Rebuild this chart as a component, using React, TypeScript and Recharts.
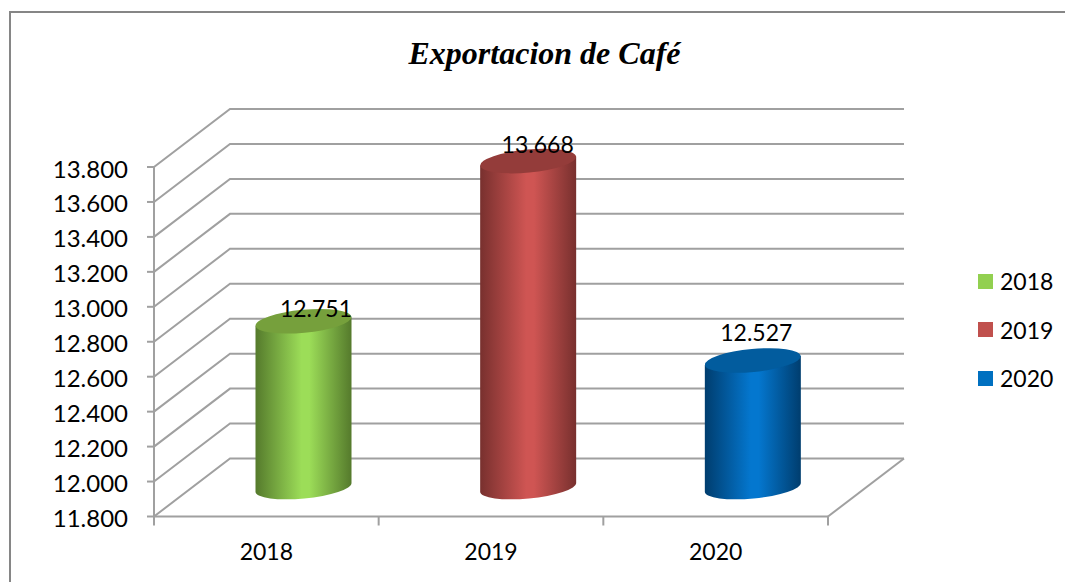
import { BarChart, Bar, XAxis, YAxis, CartesianGrid, LabelList, Legend } from 'recharts'

const categories = ['2018', '2019', '2020']
const values = [12751, 13668, 12527]
const yTicks = [11800, 12000, 12200, 12400, 12600, 12800, 13000, 13200, 13400, 13600, 13800]
const flatColors = ['#92d050', '#c0504d', '#0070c0']
const lightColors = ['#9cdd58', '#cf5553', '#0477cf']
const darkColors = ['#557a2c', '#78302e', '#003d6e']
const capColors = ['#76a03c', '#943c3a', '#025c9e']
// hand placed in the original, so the value labels don't sit the same distance from the caps
const labelNudges = [[12, -13], [9, -17], [3, -28]]

const data = categories.map((year, i) => ({ year, value: values[i] }))

const WIDTH = 1065
const HEIGHT = 582
const LEFT = 154
const RIGHT = 828
const TOP = 167
const BOTTOM = 516.5
const DEPTH_X = 76
const DEPTH_Y = 58
const LINE = '#a0a0a0'
const LINE_W = 2
const FONT = 'Lato, sans-serif'

const formatValue = (v: number) => (v / 1000).toFixed(3)

// each grid line runs up the side wall and then along the back wall
function depthLine({ x1, x2, y1 }: any) {
  const isFloor = Math.abs(y1 - BOTTOM) < 1
  return (
    <g key={y1}>
      <polyline
        points={`${x1},${y1} ${x1 + DEPTH_X},${y1 - DEPTH_Y} ${x2 + DEPTH_X},${y1 - DEPTH_Y}`}
        fill="none"
        stroke={LINE}
        strokeWidth={LINE_W}
      />
      {isFloor && (
        <line x1={x2} y1={y1} x2={x2 + DEPTH_X} y2={y1 - DEPTH_Y} stroke={LINE} strokeWidth={LINE_W} />
      )}
    </g>
  )
}

function Cylinder({ x, y, width, height, index }: any) {
  const cx = x + width / 2 + DEPTH_X / 2 - 0.5
  const top = y - DEPTH_Y / 2
  const bottom = y + height - DEPTH_Y / 2
  const half = width / 2
  const d = `M${cx - half},${bottom + 4.5} A48.2,11 -5.4 0 0 ${cx + half},${bottom - 4.5} L${cx + half},${top - 4.5} L${cx - half},${top + 4.5} Z`
  return (
    <g>
      <defs>
        <linearGradient id={`cyl-${index}`} x1="0" y1="0" x2="1" y2="0">
          <stop offset="0%" stopColor={darkColors[index]} />
          <stop offset="48%" stopColor={lightColors[index]} />
          <stop offset="56%" stopColor={lightColors[index]} />
          <stop offset="100%" stopColor={darkColors[index]} />
        </linearGradient>
      </defs>
      <path d={d} fill={`url(#cyl-${index})`} />
      <ellipse
        cx={cx}
        cy={top}
        rx={48.1}
        ry={11.5}
        fill={capColors[index]}
        transform={`rotate(-5.4 ${cx} ${top})`}
      />
    </g>
  )
}

function ValueLabel({ x, y, width, index }: any) {
  const [dx, dy] = labelNudges[index]
  return (
    <text
      x={x + width / 2 + DEPTH_X / 2 + dx}
      y={y - DEPTH_Y / 2 + dy}
      textAnchor="middle"
      dominantBaseline="central"
      fontFamily={FONT}
      fontSize={23}
      fill="#000"
    >
      {formatValue(values[index])}
    </text>
  )
}

// excel puts the category ticks on the band edges, not the centres
function CategoryTick({ x, payload, index }: any) {
  const band = (RIGHT - LEFT) / categories.length
  return (
    <g>
      <line x1={x - band / 2} y1={BOTTOM} x2={x - band / 2} y2={BOTTOM + 9} stroke={LINE} strokeWidth={LINE_W} />
      {index === categories.length - 1 && (
        <line x1={x + band / 2} y1={BOTTOM} x2={x + band / 2} y2={BOTTOM + 9} stroke={LINE} strokeWidth={LINE_W} />
      )}
      <text x={x} y={551} textAnchor="middle" dominantBaseline="central" fontFamily={FONT} fontSize={23} fill="#000">
        {payload.value}
      </text>
    </g>
  )
}

function YearLegend() {
  return (
    <div style={{ fontFamily: FONT, fontSize: 23, color: '#000' }}>
      {categories.map((year, i) => (
        <div key={year} style={{ display: 'flex', alignItems: 'center', height: 48.5 }}>
          <span style={{ width: 15, height: 15, background: flatColors[i], marginRight: 7 }} />
          {year}
        </div>
      ))}
    </div>
  )
}

export default function App() {
  return (
    <div style={{ position: 'absolute', left: 0, top: 0, width: WIDTH, height: HEIGHT, background: '#fff', overflow: 'hidden' }}>
      <div
        style={{
          position: 'absolute',
          left: 9,
          top: 11,
          right: 0,
          bottom: 0,
          borderLeft: '2px solid #868686',
          borderTop: '2px solid #868686',
        }}
      />
      <BarChart
        width={WIDTH}
        height={HEIGHT}
        data={data}
        margin={{ top: TOP, right: WIDTH - RIGHT, bottom: 0, left: 0 }}
        style={{ position: 'absolute', left: 0, top: 0 }}
      >
        <text
          x={544.5}
          y={53}
          textAnchor="middle"
          dominantBaseline="central"
          fontFamily="'Liberation Serif', serif"
          fontWeight="bold"
          fontStyle="italic"
          fontSize={32}
          fill="#000"
        >
          Exportacion de Café
        </text>
        <CartesianGrid vertical={false} horizontal={depthLine} />
        <XAxis
          dataKey="year"
          height={HEIGHT - BOTTOM}
          stroke={LINE}
          strokeWidth={LINE_W}
          tickLine={false}
          tick={CategoryTick}
          interval={0}
        />
        <YAxis
          domain={[11800, 13800]}
          ticks={yTicks}
          interval={0}
          width={LEFT}
          stroke={LINE}
          strokeWidth={LINE_W}
          tickSize={7}
          tickMargin={19}
          tickFormatter={formatValue}
          tick={{ fontFamily: FONT, fontSize: 24, fill: '#000', dy: 2 }}
        />
        <Legend
          layout="vertical"
          align="center"
          verticalAlign="middle"
          content={<YearLegend />}
          wrapperStyle={{ left: 978, top: 257, width: 85 }}
        />
        <Bar dataKey="value" barSize={96} shape={Cylinder} isAnimationActive={false}>
          <LabelList dataKey="value" content={ValueLabel} />
        </Bar>
      </BarChart>
    </div>
  )
}
